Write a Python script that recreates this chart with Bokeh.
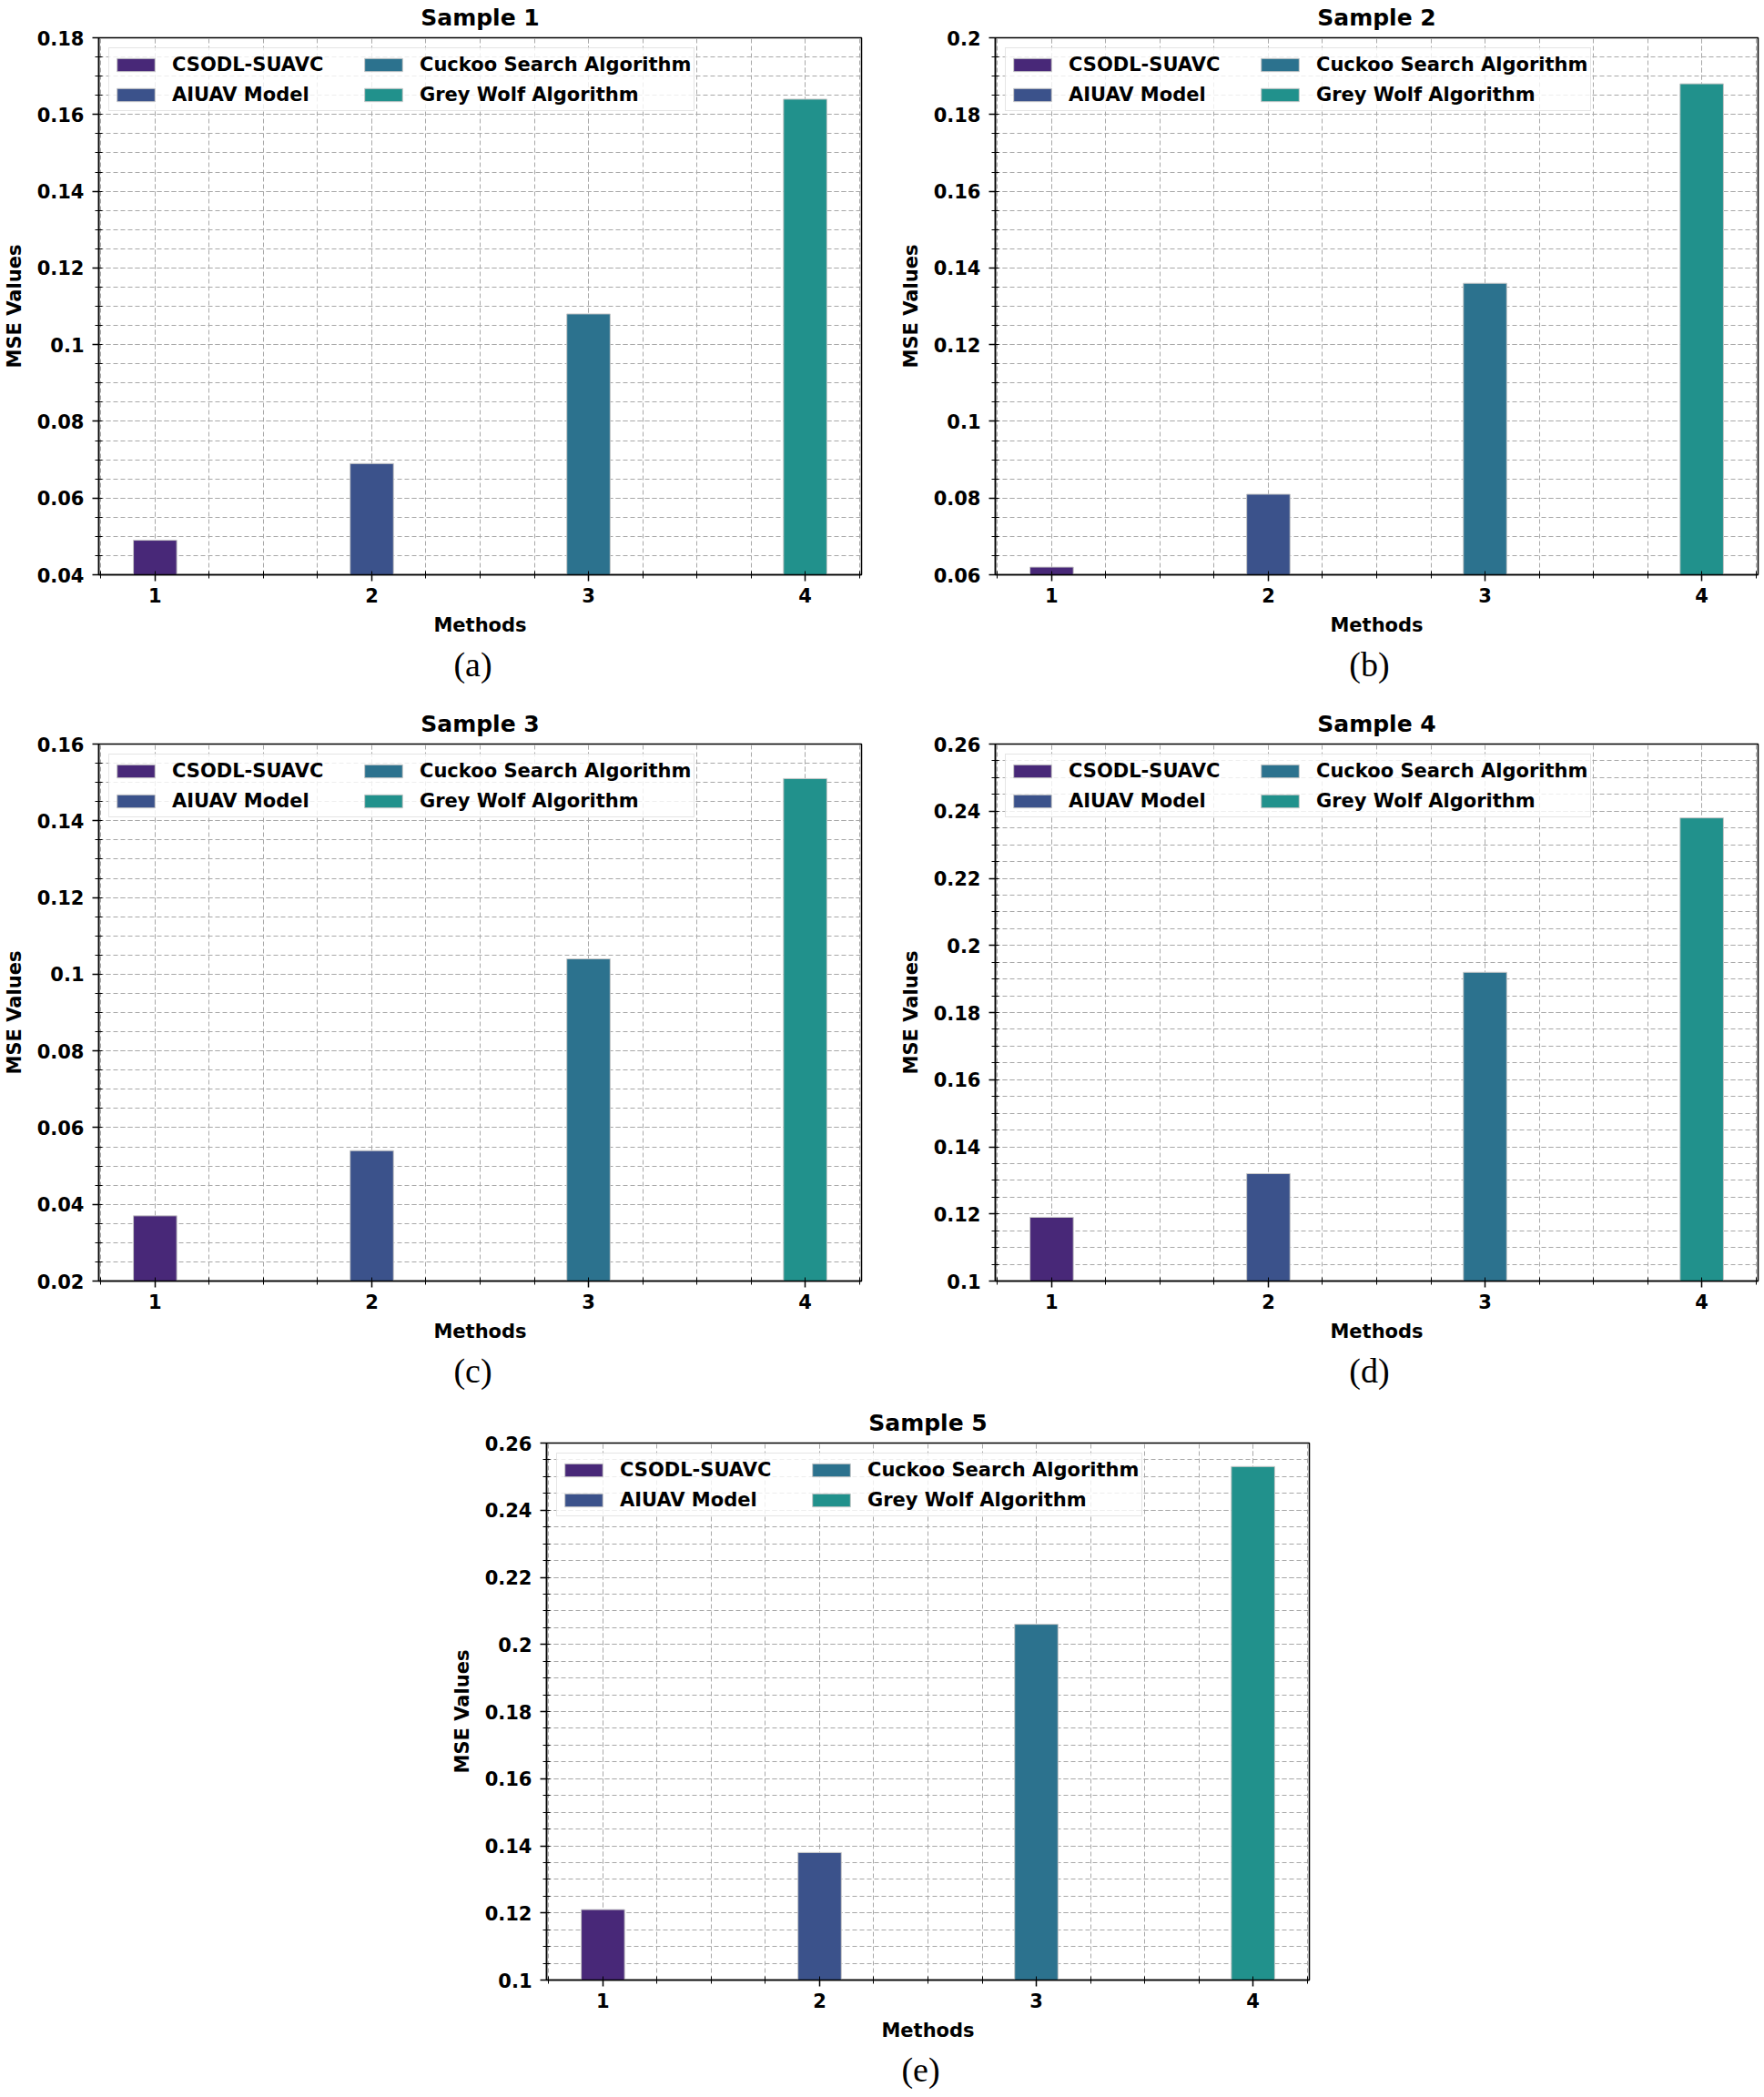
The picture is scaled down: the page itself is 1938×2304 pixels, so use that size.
from bokeh.plotting import figure
from bokeh.models import (Range1d, FixedTicker, SingleIntervalTicker, CustomJSTickFormatter,
                          Legend, LegendItem, Title, Spacer, LinearAxis)
from bokeh.layouts import column, row
from bokeh.embed import file_html
from bokeh.resources import INLINE
import numpy as np

# ---------------- data ----------------
methods = [1, 2, 3, 4]
method_names = ["CSODL-SUAVC", "AIUAV Model", "Cuckoo Search Algorithm", "Grey Wolf Algorithm"]
bar_colors = ["#482878", "#3b528b", "#2c728e", "#21918c"]

sample1 = [0.049, 0.069, 0.108, 0.164]
sample2 = [0.062, 0.081, 0.136, 0.188]
sample3 = [0.037, 0.054, 0.104, 0.151]
sample4 = [0.119, 0.132, 0.192, 0.238]
sample5 = [0.121, 0.138, 0.206, 0.253]

y_limits = [(0.04, 0.18), (0.06, 0.20), (0.02, 0.16), (0.10, 0.26), (0.10, 0.26)]
titles = ["Sample 1", "Sample 2", "Sample 3", "Sample 4", "Sample 5"]
captions = ["(a)", "(b)", "(c)", "(d)", "(e)"]
x_tick_values = [1, 2, 3, 4]
x_minor_values = list(np.arange(0.75, 4.26, 0.25))

FONT = "DejaVu Sans"
FW, FH = 838, 590
CAP_SIZE = 38
# approximate Times advance widths (em) used to left-align captions so they sit
# slightly left of the frame centre, as in the reference
TIMES_W = {"(": 0.333, ")": 0.333, "a": 0.444, "b": 0.5, "c": 0.444, "d": 0.5, "e": 0.444}


def make_panel(vals, ylim, title, caption, bl, br, bt, bb):
    p = figure(frame_width=FW, frame_height=FH,
               x_range=Range1d(0.74, 4.26), y_range=Range1d(*ylim),
               output_backend="svg", toolbar_location=None,
               min_border_left=bl, min_border_right=br,
               min_border_top=bt, min_border_bottom=bb)
    p.background_fill_color = "white"
    p.border_fill_color = "white"
    p.outline_line_color = "black"
    p.outline_line_width = 1.5
    p.outline_line_alpha = 1.0

    # explicit references to the default axes and grids
    bx = p.below[0]
    ly = p.left[0]
    xg = p.xgrid[0]
    yg = p.ygrid[0]

    items = []
    for m, v, c, name in zip(methods, vals, bar_colors, method_names):
        r = p.vbar(x=[m], top=[v], bottom=0, width=0.2, fill_color=c,
                   line_color="#c8c8c8", line_width=1)
        items.append(LegendItem(label=name, renderers=[r]))

    # axes
    xt = FixedTicker(ticks=x_tick_values, minor_ticks=x_minor_values)
    yt = SingleIntervalTicker(interval=0.02, num_minor_ticks=4)
    bx.ticker = xt
    ly.ticker = yt
    xg.ticker = xt
    yg.ticker = yt
    ly.formatter = CustomJSTickFormatter(
        code="return (Math.round(tick*1000)/1000).toString();")
    bx.axis_label = "Methods"
    ly.axis_label = "MSE Values"
    for ax in (bx, ly):
        ax.axis_label_text_font = FONT
        ax.axis_label_text_font_size = "21px"
        ax.axis_label_text_font_style = "bold"
        ax.axis_label_text_color = "black"
        ax.major_label_text_font = FONT
        ax.major_label_text_font_size = "21px"
        ax.major_label_text_font_style = "bold"
        ax.major_label_text_color = "black"
        ax.axis_line_color = "black"
        ax.axis_line_width = 1.5
        ax.major_tick_line_color = "black"
        ax.major_tick_line_width = 1.5
        ax.major_tick_out = 7
        ax.major_tick_in = 0
        ax.minor_tick_line_color = "black"
        ax.minor_tick_line_width = 1
        ax.minor_tick_out = 4
        ax.minor_tick_in = 4
    bx.major_label_standoff = 7
    ly.major_label_standoff = 9
    bx.axis_label_standoff = 10
    ly.axis_label_standoff = 10

    # grid
    for g in (xg, yg):
        g.grid_line_color = "#a8a8a8"
        g.grid_line_dash = "5 3"
        g.grid_line_width = 1
        g.minor_grid_line_color = "#a8a8a8"
        g.minor_grid_line_dash = "5 3"
        g.minor_grid_line_width = 1

    # title: drawn as the label of a bare, tick-less axis above the frame
    top_ax = LinearAxis(axis_label=title, ticker=FixedTicker(ticks=[], minor_ticks=[]),
                        axis_line_color=None, major_tick_line_color=None,
                        minor_tick_line_color=None, major_tick_out=0, minor_tick_out=0,
                        major_tick_in=0, minor_tick_in=0,
                        major_label_standoff=0, axis_label_standoff=8,
                        axis_label_text_font=FONT, axis_label_text_font_size="25px",
                        axis_label_text_font_style="bold", axis_label_text_color="black")
    p.add_layout(top_ax, "above")

    # legend
    leg = Legend(items=items, location="top_left", ncols=2,
                 label_text_font=FONT, label_text_font_size="21px",
                 label_text_font_style="bold", label_text_color="black",
                 glyph_width=52, glyph_height=18, label_standoff=14,
                 label_height=29, spacing=4, padding=3, margin=11, label_width=202,
                 border_line_color="#cccccc", border_line_width=1.5,
                 background_fill_color="white", background_fill_alpha=0.8)
    p.add_layout(leg)

    # caption under the panel (centre about 8px left of the frame centre)
    cap_w = sum(TIMES_W.get(ch, 0.5) for ch in caption) * CAP_SIZE
    cap = Title(text=caption, align="left", offset=FW / 2 - 8 - cap_w / 2, standoff=10,
                text_font="Liberation Serif", text_font_size=f"{CAP_SIZE}px",
                text_font_style="normal", text_color="black")
    p.add_layout(cap, "below")
    return p


pa = make_panel(sample1, y_limits[0], titles[0], captions[0], 106, 39, 41, 145)
pb = make_panel(sample2, y_limits[1], titles[1], captions[1], 106, 8, 41, 145)
pc = make_panel(sample3, y_limits[2], titles[2], captions[2], 106, 39, 41, 137)
pd = make_panel(sample4, y_limits[3], titles[3], captions[3], 106, 8, 41, 137)
pe = make_panel(sample5, y_limits[4], titles[4], captions[4], 106, 8, 41, 129)

layout = column(row(pa, pb), row(pc, pd), row(Spacer(width=492, height=760), pe))

with open("out.html", "w") as f:
    f.write(file_html(layout, INLINE))
